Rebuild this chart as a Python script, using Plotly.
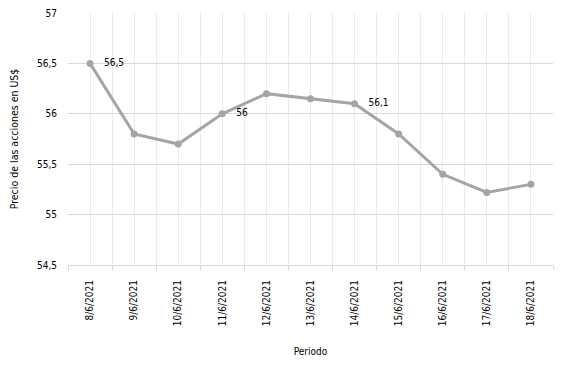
import plotly.graph_objects as go

categorias = ["8/6/2021", "9/6/2021", "10/6/2021", "11/6/2021", "12/6/2021", "13/6/2021",
              "14/6/2021", "15/6/2021", "16/6/2021", "17/6/2021", "18/6/2021"]
precios = [56.5, 55.8, 55.7, 56.0, 56.2, 56.15, 56.1, 55.8, 55.4, 55.22, 55.3]
etiquetas = ["56,5", "", "", "56", "", "", "56,1", "", "", "", ""]
y_ticks = [54.5, 55, 55.5, 56, 56.5, 57]

pos = list(range(len(categorias)))
font = "DejaVu Sans Condensed, DejaVu Sans"

fig = go.Figure()
fig.add_trace(go.Scatter(
    x=pos, y=precios, mode="lines+markers+text",
    text=["   " + t if t else "" for t in etiquetas], textposition="middle right",
    textfont=dict(size=10, color="#000000", family=font),
    line=dict(color="#a5a5a5", width=3),
    marker=dict(color="#a5a5a5", size=7),
    cliponaxis=False, showlegend=False,
))

fig.update_layout(
    width=547, height=349,
    margin=dict(l=60, r=2, t=5, b=92),
    paper_bgcolor="white", plot_bgcolor="white",
    separators=",.",
    font=dict(family=font, size=10, color="#000000"),
    xaxis=dict(
        range=[-0.5, len(categorias) - 0.5], automargin=False,
        tickvals=pos, ticktext=categorias, tickangle=-90,
        showgrid=True, gridcolor="#ebebeb", gridwidth=1,
        ticks="", zeroline=False, ticklabeloverflow="allow", ticklabelstandoff=10,
        showline=True, linecolor="#d9d9d9", linewidth=1,
        minor=dict(tickvals=[p - 0.5 for p in pos] + [len(pos) - 0.5],
                   showgrid=True, gridcolor="#ebebeb", ticks="outside",
                   ticklen=4, tickcolor="#d9d9d9"),
        title=dict(text="Periodo", font=dict(size=10), standoff=25),
        tickfont=dict(size=10),
    ),
    yaxis=dict(
        range=[54.5, 57], tickvals=y_ticks, automargin=False,
        showgrid=True, gridcolor="#d9d9d9", gridwidth=1,
        zeroline=False, ticks="", ticklabelstandoff=10, ticklabeloverflow="allow",
        title=dict(text="Precio de las acciones en US$", font=dict(size=10.5), standoff=16),
        tickfont=dict(size=10),
    ),
)

fig.write_html("out.html")
